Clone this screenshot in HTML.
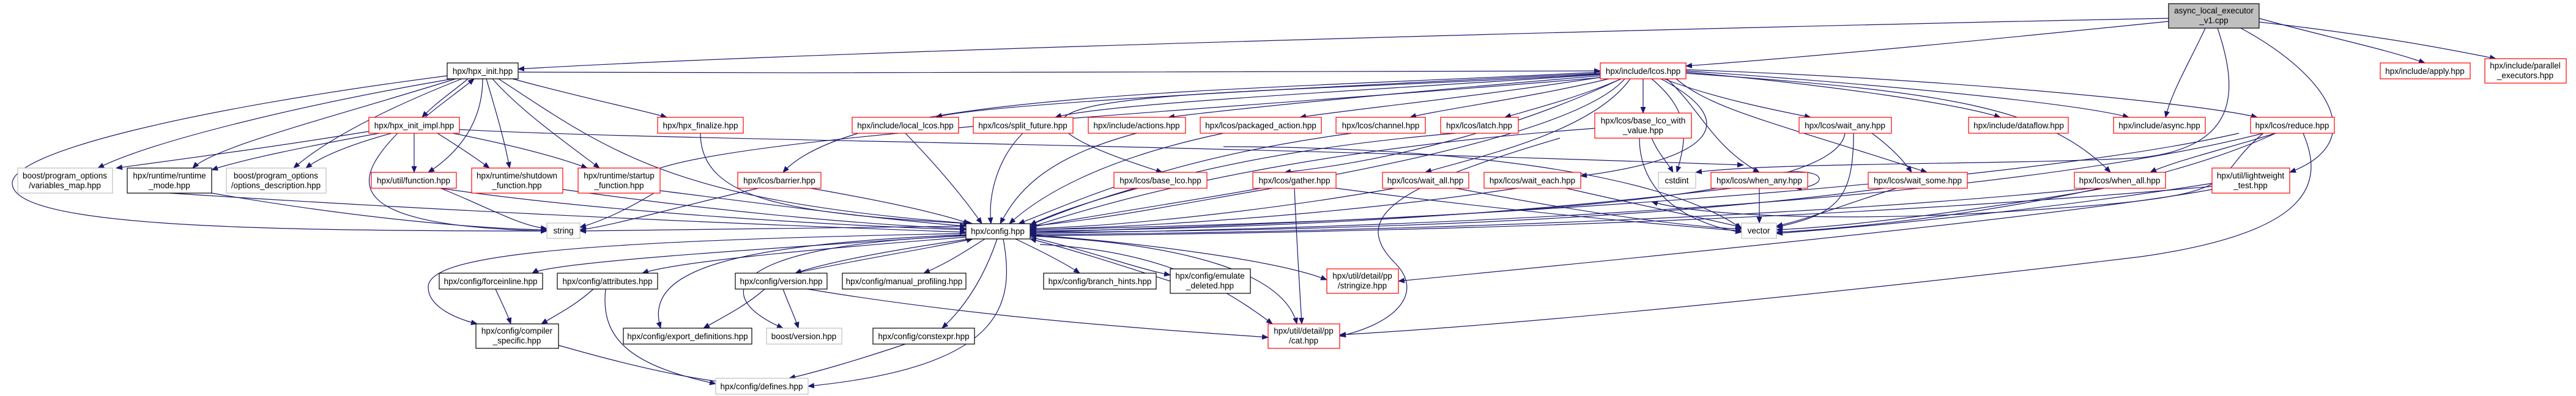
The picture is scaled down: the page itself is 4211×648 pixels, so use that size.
<!DOCTYPE html>
<html><head><meta charset="utf-8"><style>
html,body{margin:0;padding:0;background:#fff;}
svg{display:block;}
text{font-family:"Liberation Sans",Arial,sans-serif;font-size:13.5px;fill:#000;text-anchor:middle;}
.e path{fill:none;stroke:#191970;stroke-width:1.2;}
.b{fill:#fff;stroke:#000;stroke-width:1.2;}
.r{fill:#fff;stroke:#ff0000;stroke-width:1.2;}
.g{fill:#fff;stroke:#bfbfbf;stroke-width:1.2;}
</style></head><body>
<svg width="4211" height="648" viewBox="0 0 4211 648" xmlns="http://www.w3.org/2000/svg">
<defs><marker id="a" markerWidth="11" markerHeight="9" refX="10" refY="4.5" orient="auto" markerUnits="userSpaceOnUse"><path d="M0,0 L11,4.5 L0,9z" fill="#191970"/></marker></defs>
<g class="e" marker-end="url(#a)">
<!-- async out -->
<path marker-end="url(#a)" d="M3545,30 C3000,40 1400,80 847,113"/>
<path marker-end="url(#a)" d="M3545,35 C3300,60 3000,90 2756,108"/>
<path marker-end="url(#a)" d="M3693,30 C3800,60 3900,80 3964,103"/>
<path marker-end="url(#a)" d="M3693,36 C3900,60 4000,80 4080,96"/>
<path marker-end="url(#a)" d="M3605,46 C3580,100 3550,150 3540,192"/>
<path marker-end="url(#a)" d="M3663,46 C3800,120 3880,230 3743,282"/>
<path marker-end="url(#a)" d="M3625,46 C3660,150 3660,240 3500,258 C3300,270 2900,265 2772,282"/>
<!-- lcos out -->
<path marker-end="url(#a)" d="M2616,120 C2200,140 1600,170 1530,192"/>
<path marker-end="url(#a)" d="M2616,122 C2200,150 1800,170 1725,192"/>
<path marker-end="url(#a)" d="M2616,124 C2300,150 2000,180 1910,192"/>
<path marker-end="url(#a)" d="M2620,126 C2400,160 2200,180 2125,192"/>
<path marker-end="url(#a)" d="M2630,129 C2500,160 2350,180 2305,192"/>
<path marker-end="url(#a)" d="M2650,129 C2580,160 2500,180 2460,192"/>
<path marker-end="url(#a)" d="M2686,129 L2686,185"/>
<path marker-end="url(#a)" d="M2720,129 C2800,160 2900,180 2960,192"/>
<path marker-end="url(#a)" d="M2756,118 C3000,140 3200,170 3270,192"/>
<path marker-end="url(#a)" d="M2756,116 C3100,140 3400,170 3480,192"/>
<path marker-end="url(#a)" d="M2756,114 C3200,130 3600,170 3690,192"/>
<path marker-end="url(#a)" d="M2616,118 C2000,150 1400,150 1280,282"/>
<path marker-end="url(#a)" d="M2616,121 C2000,160 1450,140 1900,282"/>
<path marker-end="url(#a)" d="M2650,129 C2500,200 2300,260 2100,282"/>
<path marker-end="url(#a)" d="M2665,129 C2600,220 2400,260 2330,282"/>
<path marker-end="url(#a)" d="M2715,129 C2850,200 2800,260 2584,288"/>
<path marker-end="url(#a)" d="M2725,129 C2780,180 2800,240 2876,282"/>
<path marker-end="url(#a)" d="M2740,129 C2800,180 2900,200 3150,282"/>
<path marker-end="url(#a)" d="M2756,120 C3200,150 3350,180 3450,282"/>
<path marker-end="url(#a)" d="M2700,129 C2760,180 2760,220 2741,282"/>
<path marker-end="url(#a)" d="M2616,127 C2000,180 1200,220 1060,282"/>
<!-- init / impl -->
<path marker-end="url(#a)" d="M731,124 C300,180 20,250 20,300 C20,370 400,378 894,378"/>
<path marker-end="url(#a)" d="M740,129 C500,170 250,230 160,275"/>
<path marker-end="url(#a)" d="M745,129 C550,190 350,240 315,275"/>
<path marker-end="url(#a)" d="M755,129 C600,190 520,240 480,275"/>
<path marker-end="url(#a)" d="M765,129 C740,150 710,170 690,192"/>
<path marker-end="url(#a)" d="M695,192 C720,170 750,150 775,129"/>
<path marker-end="url(#a)" d="M789,129 C789,200 750,250 700,282"/>
<path marker-end="url(#a)" d="M795,129 C810,180 825,230 833,275"/>
<path marker-end="url(#a)" d="M805,129 C850,180 920,230 980,275"/>
<path marker-end="url(#a)" d="M838,129 C950,160 1050,180 1090,192"/>
<path marker-end="url(#a)" d="M815,129 C1000,250 1100,330 1590,366"/>
<path marker-end="url(#a)" d="M847,118 C1500,120 2300,120 2616,116"/>
<path marker-end="url(#a)" d="M603,215 C450,240 300,260 190,275"/>
<path marker-end="url(#a)" d="M620,218 C500,240 400,260 346,278"/>
<path marker-end="url(#a)" d="M640,218 C560,240 520,260 500,275"/>
<path marker-end="url(#a)" d="M677,218 L677,282"/>
<path marker-end="url(#a)" d="M715,218 C750,240 780,260 800,275"/>
<path marker-end="url(#a)" d="M740,218 C850,240 920,260 960,275"/>
<path marker-end="url(#a)" d="M650,218 C570,300 560,370 894,378"/>
<path marker-end="url(#a)" d="M751,212 C1100,230 1700,230 2850,270"/>
<!-- to string -->
<path marker-end="url(#a)" d="M346,316 C600,360 800,375 894,376"/>
<path marker-end="url(#a)" d="M720,308 C800,340 850,370 894,374"/>
<path marker-end="url(#a)" d="M1079,310 C1030,340 990,360 948,372"/>
<path marker-end="url(#a)" d="M1240,308 C1100,340 1000,370 948,376"/>
<path marker-end="url(#a)" d="M1579,370 C1300,372 1100,376 948,378"/>
<!-- to config -->
<path marker-end="url(#a)" d="M1145,218 C1145,330 1300,350 1585,366"/>
<path marker-end="url(#a)" d="M1480,218 C1540,280 1580,330 1605,366"/>
<path marker-end="url(#a)" d="M1672,218 C1630,260 1615,320 1620,366"/>
<path marker-end="url(#a)" d="M1858,218 C1700,260 1660,320 1635,366"/>
<path marker-end="url(#a)" d="M2000,218 C1800,260 1700,320 1650,366"/>
<path marker-end="url(#a)" d="M2210,218 C1900,260 1760,330 1665,366"/>
<path marker-end="url(#a)" d="M2380,218 C2000,250 1800,320 1684,368"/>
<path marker-end="url(#a)" d="M2607,210 C2200,240 1900,300 1684,372"/>
<path marker-end="url(#a)" d="M3016,218 C3000,330 2400,360 1684,376"/>
<path marker-end="url(#a)" d="M3660,218 C3300,300 2400,360 1684,380"/>
<path marker-end="url(#a)" d="M3700,218 C3300,320 2500,370 1684,382"/>
<path marker-end="url(#a)" d="M277,316 C800,350 1300,370 1579,380"/>
<path marker-end="url(#a)" d="M720,308 C1000,350 1400,370 1579,376"/>
<path marker-end="url(#a)" d="M920,310 C1200,350 1450,370 1579,374"/>
<path marker-end="url(#a)" d="M1079,312 C1300,340 1450,360 1579,370"/>
<path marker-end="url(#a)" d="M1325,308 C1450,330 1540,350 1585,366"/>
<path marker-end="url(#a)" d="M1860,308 C1780,330 1720,350 1684,368"/>
<path marker-end="url(#a)" d="M2080,308 C1950,330 1800,360 1684,370"/>
<path marker-end="url(#a)" d="M2280,308 C2100,340 1850,370 1684,374"/>
<path marker-end="url(#a)" d="M2480,308 C2200,350 1900,370 1684,376"/>
<path marker-end="url(#a)" d="M2830,308 C2400,360 2000,375 1684,378"/>
<path marker-end="url(#a)" d="M3080,308 C2700,360 2200,378 1684,380"/>
<path marker-end="url(#a)" d="M3420,308 C2900,360 2200,380 1684,384"/>
<path marker-end="url(#a)" d="M3616,305 C3000,360 2300,380 1684,386"/>
<path marker-end="url(#a)" d="M2656,129 C2550,250 1900,330 1684,372"/>
<!-- to vector -->
<path marker-end="url(#a)" d="M2184,308 C2500,350 2750,370 2847,378"/>
<path marker-end="url(#a)" d="M2380,308 C2600,350 2750,370 2847,375"/>
<path marker-end="url(#a)" d="M2560,308 C2700,340 2800,360 2847,372"/>
<path marker-end="url(#a)" d="M2680,226 C2680,330 2780,370 2847,380"/>
<path marker-end="url(#a)" d="M2876,308 L2876,365"/>
<path marker-end="url(#a)" d="M3030,218 C3030,330 3000,350 2904,372"/>
<path marker-end="url(#a)" d="M3100,308 C3000,340 2950,360 2904,370"/>
<path marker-end="url(#a)" d="M3440,308 C3200,350 3000,372 2904,376"/>
<path marker-end="url(#a)" d="M3720,218 C3500,320 3100,370 2904,380"/>
<path marker-end="url(#a)" d="M3616,300 C3300,350 3000,375 2904,382"/>
<path marker-end="url(#a)" d="M2000,240 C2300,240 2700,270 2847,374"/>
<!-- misc -->
<path marker-end="url(#a)" d="M3060,218 C3090,240 3110,260 3125,282"/>
<path marker-end="url(#a)" d="M2700,226 C2710,250 2725,265 2735,282"/>
<path marker-end="url(#a)" d="M2915,282 C2990,275 2990,305 2935,308"/>
<path marker-end="url(#a)" d="M3720,218 C3650,240 3550,265 3515,282"/>
<path marker-end="url(#a)" d="M3700,218 C3600,300 3700,320 3300,345 C3100,360 2800,360 2700,330"/>
<!-- config out -->
<path marker-end="url(#a)" d="M1579,385 C1200,410 900,430 870,447"/>
<path marker-end="url(#a)" d="M1579,388 C1300,410 1100,430 1050,447"/>
<path marker-end="url(#a)" d="M1585,391 C1450,410 1350,430 1300,447"/>
<path marker-end="url(#a)" d="M1300,447 C1400,425 1500,410 1590,391"/>
<path marker-end="url(#a)" d="M1610,391 C1580,410 1550,430 1510,447"/>
<path marker-end="url(#a)" d="M1660,391 C1700,410 1740,430 1765,447"/>
<path marker-end="url(#a)" d="M1684,388 C1780,410 1860,440 1913,450"/>
<path marker-end="url(#a)" d="M1913,460 C1850,440 1760,410 1684,391"/>
<path marker-end="url(#a)" d="M1684,384 C1900,400 2100,430 2169,458"/>
<path marker-end="url(#a)" d="M1684,386 C1950,400 2100,450 2120,530"/>
<path marker-end="url(#a)" d="M1579,384 C1200,400 1050,440 1080,537"/>
<path marker-end="url(#a)" d="M1579,386 C1200,400 1150,480 1280,537"/>
<path marker-end="url(#a)" d="M1630,391 C1610,450 1580,500 1540,537"/>
<path marker-end="url(#a)" d="M1640,391 C1660,500 1640,600 1321,632"/>
<path marker-end="url(#a)" d="M1579,382 C900,395 700,420 700,470 C700,500 740,520 780,530"/>
<path marker-end="url(#a)" d="M1250,473 C1220,500 1180,520 1150,537"/>
<path marker-end="url(#a)" d="M1280,473 C1290,500 1300,520 1305,537"/>
<path marker-end="url(#a)" d="M1320,473 C1600,520 1900,540 2073,552"/>
<path marker-end="url(#a)" d="M970,473 C940,500 910,515 885,530"/>
<path marker-end="url(#a)" d="M990,473 C980,560 1040,600 1170,628"/>
<path marker-end="url(#a)" d="M810,473 C820,495 830,515 835,530"/>
<path marker-end="url(#a)" d="M913,565 C1000,590 1100,615 1180,625"/>
<path marker-end="url(#a)" d="M1480,563 C1400,590 1330,610 1290,619"/>
<path marker-end="url(#a)" d="M2116,308 C2120,400 2125,480 2128,530"/>
<path marker-end="url(#a)" d="M2550,226 C2300,300 2200,350 2280,430 C2330,480 2280,530 2190,550"/>
<path marker-end="url(#a)" d="M3765,218 C3800,300 3780,380 3500,420 C3000,480 2500,530 2190,548"/>
<path marker-end="url(#a)" d="M3616,310 C3400,350 2700,420 2286,460"/>
<path marker-end="url(#a)" d="M1700,400 C1900,410 2000,470 2080,530"/>
</g>
<g>
<rect x="3545" y="6" width="148" height="40" fill="#bfbfbf" stroke="#000" stroke-width="1.2"/>
<text x="3619" y="22">async_local_executor</text><text x="3619" y="38">_v1.cpp</text>
<rect class="b" x="731" y="103" width="116" height="26"/><text x="789" y="121">hpx/hpx_init.hpp</text>
<rect class="r" x="603" y="192" width="148" height="26"/><text x="677" y="210">hpx/hpx_init_impl.hpp</text>
<rect class="g" x="29" y="275" width="155" height="41"/><text x="106" y="292">boost/program_options</text><text x="106" y="308">/variables_map.hpp</text>
<rect class="b" x="208" y="275" width="138" height="41"/><text x="277" y="292">hpx/runtime/runtime</text><text x="277" y="308">_mode.hpp</text>
<rect class="g" x="370" y="275" width="163" height="41"/><text x="451" y="292">boost/program_options</text><text x="451" y="308">/options_description.hpp</text>
<rect class="r" x="607" y="282" width="139" height="26"/><text x="676" y="300">hpx/util/function.hpp</text>
<rect class="r" x="771" y="275" width="149" height="41"/><text x="845" y="292">hpx/runtime/shutdown</text><text x="845" y="308">_function.hpp</text>
<rect class="r" x="945" y="275" width="134" height="41"/><text x="1012" y="292">hpx/runtime/startup</text><text x="1012" y="308">_function.hpp</text>
<rect class="g" x="894" y="365" width="54" height="25"/><text x="921" y="382">string</text>
<rect class="r" x="1075" y="192" width="140" height="26"/><text x="1145" y="210">hpx/hpx_finalize.hpp</text>
<rect class="r" x="1206" y="282" width="136" height="26"/><text x="1274" y="300">hpx/lcos/barrier.hpp</text>
<rect class="r" x="1393" y="192" width="174" height="26"/><text x="1480" y="210">hpx/include/local_lcos.hpp</text>
<rect class="r" x="1591" y="192" width="163" height="26"/><text x="1672" y="210">hpx/lcos/split_future.hpp</text>
<rect class="r" x="1779" y="192" width="159" height="26"/><text x="1858" y="210">hpx/include/actions.hpp</text>
<rect class="r" x="1962" y="192" width="198" height="26"/><text x="2061" y="210">hpx/lcos/packaged_action.hpp</text>
<rect class="r" x="2184" y="192" width="146" height="26"/><text x="2257" y="210">hpx/lcos/channel.hpp</text>
<rect class="r" x="2355" y="192" width="127" height="26"/><text x="2418" y="210">hpx/lcos/latch.hpp</text>
<rect class="r" x="2607" y="185" width="158" height="41"/><text x="2686" y="202">hpx/lcos/base_lco_with</text><text x="2686" y="218">_value.hpp</text>
<rect class="r" x="2616" y="103" width="140" height="26"/><text x="2686" y="121">hpx/include/lcos.hpp</text>
<rect class="r" x="2941" y="192" width="151" height="26"/><text x="3016" y="210">hpx/lcos/wait_any.hpp</text>
<rect class="r" x="3218" y="192" width="163" height="26"/><text x="3300" y="210">hpx/include/dataflow.hpp</text>
<rect class="r" x="3455" y="192" width="150" height="26"/><text x="3530" y="210">hpx/include/async.hpp</text>
<rect class="r" x="3679" y="192" width="137" height="26"/><text x="3747" y="210">hpx/lcos/reduce.hpp</text>
<rect class="r" x="3891" y="103" width="147" height="26"/><text x="3964" y="121">hpx/include/apply.hpp</text>
<rect class="r" x="4062" y="96" width="133" height="40"/><text x="4128" y="112">hpx/include/parallel</text><text x="4128" y="128">_executors.hpp</text>
<rect class="r" x="1821" y="282" width="152" height="26"/><text x="1897" y="300">hpx/lcos/base_lco.hpp</text>
<rect class="r" x="2048" y="282" width="136" height="26"/><text x="2116" y="300">hpx/lcos/gather.hpp</text>
<rect class="r" x="2260" y="282" width="141" height="26"/><text x="2330" y="300">hpx/lcos/wait_all.hpp</text>
<rect class="r" x="2426" y="282" width="158" height="26"/><text x="2505" y="300">hpx/lcos/wait_each.hpp</text>
<rect class="g" x="2711" y="282" width="61" height="26"/><text x="2741" y="300">cstdint</text>
<rect class="r" x="2797" y="282" width="158" height="26"/><text x="2876" y="300">hpx/lcos/when_any.hpp</text>
<rect class="r" x="3054" y="282" width="162" height="26"/><text x="3135" y="300">hpx/lcos/wait_some.hpp</text>
<rect class="r" x="3391" y="282" width="149" height="26"/><text x="3465" y="300">hpx/lcos/when_all.hpp</text>
<rect class="r" x="3616" y="275" width="127" height="41"/><text x="3679" y="292">hpx/util/lightweight</text><text x="3679" y="308">_test.hpp</text>
<rect class="b" x="1579" y="366" width="105" height="25"/><text x="1631" y="383">hpx/config.hpp</text>
<rect class="g" x="2847" y="365" width="57" height="25"/><text x="2875" y="382">vector</text>
<rect class="b" x="718" y="447" width="169" height="26"/><text x="802" y="465">hpx/config/forceinline.hpp</text>
<rect class="b" x="911" y="447" width="164" height="26"/><text x="993" y="465">hpx/config/attributes.hpp</text>
<rect class="b" x="1202" y="447" width="150" height="26"/><text x="1277" y="465">hpx/config/version.hpp</text>
<rect class="b" x="1377" y="447" width="202" height="26"/><text x="1478" y="465">hpx/config/manual_profiling.hpp</text>
<rect class="b" x="1706" y="447" width="184" height="26"/><text x="1798" y="465">hpx/config/branch_hints.hpp</text>
<rect class="b" x="1913" y="440" width="131" height="40"/><text x="1978" y="456">hpx/config/emulate</text><text x="1978" y="472">_deleted.hpp</text>
<rect class="r" x="2169" y="440" width="117" height="40"/><text x="2227" y="456">hpx/util/detail/pp</text><text x="2227" y="472">/stringize.hpp</text>
<rect class="b" x="778" y="530" width="135" height="40"/><text x="845" y="546">hpx/config/compiler</text><text x="845" y="562">_specific.hpp</text>
<rect class="b" x="1019" y="537" width="210" height="26"/><text x="1124" y="555">hpx/config/export_definitions.hpp</text>
<rect class="g" x="1253" y="537" width="123" height="26"/><text x="1314" y="555">boost/version.hpp</text>
<rect class="b" x="1427" y="537" width="166" height="26"/><text x="1510" y="555">hpx/config/constexpr.hpp</text>
<rect class="r" x="2073" y="530" width="117" height="40"/><text x="2131" y="546">hpx/util/detail/pp</text><text x="2131" y="562">/cat.hpp</text>
<rect class="g" x="1170" y="619" width="151" height="26"/><text x="1245" y="637">hpx/config/defines.hpp</text>
</g>
</svg>
</body></html>
